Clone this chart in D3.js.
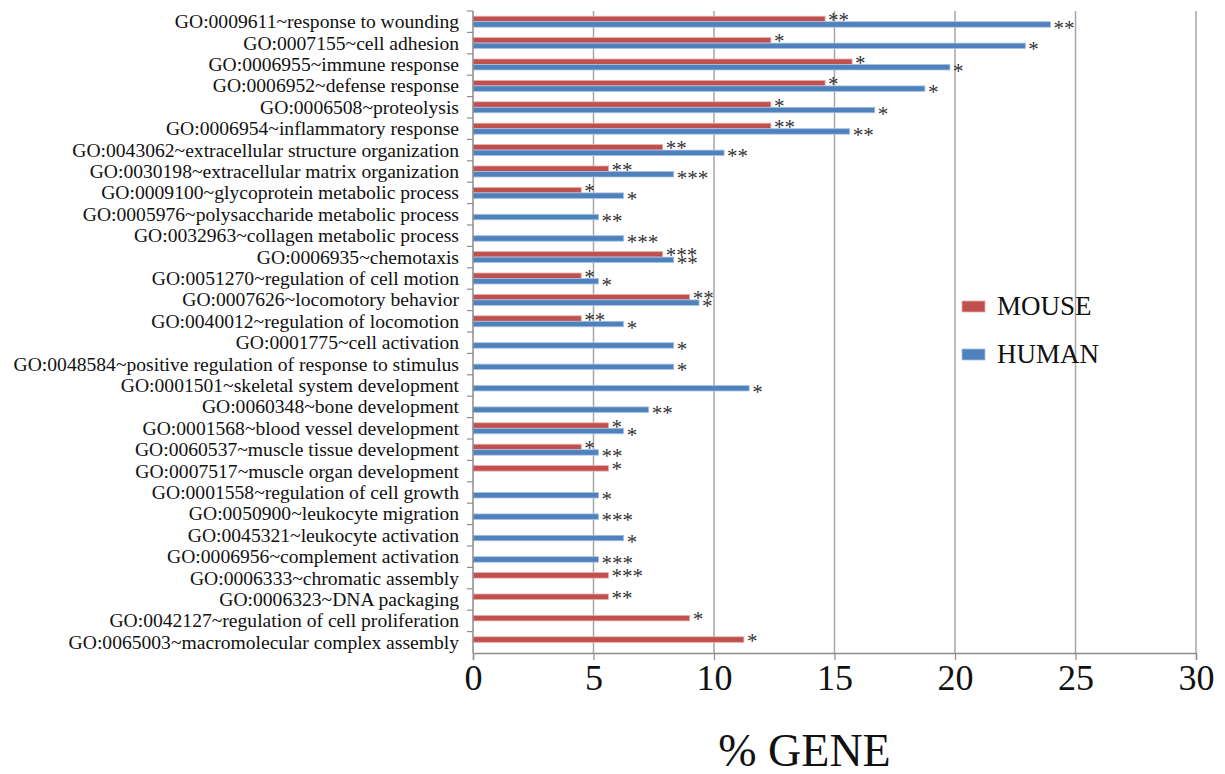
<!DOCTYPE html>
<html>
<head>
<meta charset="utf-8">
<script src="https://cdn.jsdelivr.net/npm/d3@7"></script>
<style>
    body { margin: 0; background: #fff; }
    svg { display: block; font-family: "Liberation Serif", "Times New Roman", serif; }
</style>
</head>
<body>
<div id="chart"></div>
<script>
"use strict";

var categories = [
    "GO:0009611~response to wounding",
    "GO:0007155~cell adhesion",
    "GO:0006955~immune response",
    "GO:0006952~defense response",
    "GO:0006508~proteolysis",
    "GO:0006954~inflammatory response",
    "GO:0043062~extracellular structure organization",
    "GO:0030198~extracellular matrix organization",
    "GO:0009100~glycoprotein metabolic process",
    "GO:0005976~polysaccharide metabolic process",
    "GO:0032963~collagen metabolic process",
    "GO:0006935~chemotaxis",
    "GO:0051270~regulation of cell motion",
    "GO:0007626~locomotory behavior",
    "GO:0040012~regulation of locomotion",
    "GO:0001775~cell activation",
    "GO:0048584~positive regulation of response to stimulus",
    "GO:0001501~skeletal system development",
    "GO:0060348~bone development",
    "GO:0001568~blood vessel development",
    "GO:0060537~muscle tissue development",
    "GO:0007517~muscle organ development",
    "GO:0001558~regulation of cell growth",
    "GO:0050900~leukocyte migration",
    "GO:0045321~leukocyte activation",
    "GO:0006956~complement activation",
    "GO:0006333~chromatic assembly",
    "GO:0006323~DNA packaging",
    "GO:0042127~regulation of cell proliferation",
    "GO:0065003~macromolecular complex assembly"
];

var series = ["MOUSE", "HUMAN"];

// % gene, null = no bar
var mouseValues = [14.61, 12.36, 15.73, 14.61, 12.36, 12.36, 7.87, 5.62, 4.49, null,
    null, 7.87, 4.49, 8.99, 4.49, null, null, null, null, 5.62,
    4.49, 5.62, null, null, null, null, 5.62, 5.62, 8.99, 11.24];
var humanValues = [23.96, 22.92, 19.79, 18.75, 16.67, 15.63, 10.42, 8.33, 6.25, 5.21,
    6.25, 8.33, 5.21, 9.38, 6.25, 8.33, 8.33, 11.46, 7.29, 6.25,
    5.21, null, 5.21, 5.21, 6.25, 5.21, null, null, null, null];

// significance marks
var mouseStars = ["**", "*", "*", "*", "*", "**", "**", "**", "*", "",
    "", "***", "*", "**", "**", "", "", "", "", "*",
    "*", "*", "", "", "", "", "***", "**", "*", "*"];
var humanStars = ["**", "*", "*", "*", "*", "**", "**", "***", "*", "**",
    "***", "**", "*", "*", "*", "*", "*", "*", "**", "*",
    "**", "", "*", "***", "*", "***", "", "", "", ""];

var xTicks = [0, 5, 10, 15, 20, 25, 30];

var colors = { MOUSE: "#c0504d", HUMAN: "#4f81bd" };
var strokes = { MOUSE: "#e6aeac", HUMAN: "#a9c3e3" };

var width = 1225,
    height = 774;

var plot = { left: 473, right: 1196, top: 11, bottom: 653 };

var svg = d3.select("#chart").append("svg")
    .attr("width", width)
    .attr("height", height);

var x = d3.scaleLinear()
    .domain([0, 30])
    .range([plot.left, plot.right]);

var y = d3.scaleBand()
    .domain(categories)
    .range([plot.top, plot.bottom]);

// two bars inside each category band
var ySub = d3.scaleBand()
    .domain(series)
    .range([0, y.bandwidth()])
    .paddingInner(0)
    .paddingOuter(0.95);

// rows of data, one per category
var rows = categories.map(function (c, i) {
    return {
        name: c,
        bars: [
            { key: "MOUSE", value: mouseValues[i], stars: mouseStars[i] },
            { key: "HUMAN", value: humanValues[i], stars: humanStars[i] }
        ]
    };
});

// vertical grid lines
svg.append("g")
    .attr("class", "grid")
    .selectAll("line")
    .data(xTicks.slice(1))
    .enter().append("line")
    .attr("x1", function (d) { return x(d); })
    .attr("x2", function (d) { return x(d); })
    .attr("y1", plot.top)
    .attr("y2", plot.bottom)
    .attr("stroke", "#a6a6a6")
    .attr("stroke-width", 1.5);

// bars
var groups = svg.append("g")
    .attr("class", "bars")
    .selectAll("g")
    .data(rows)
    .enter().append("g")
    .attr("transform", function (d) { return "translate(0," + y(d.name) + ")"; });

var bar = groups.selectAll("g")
    .data(function (d) { return d.bars.filter(function (b) { return b.value != null; }); })
    .enter().append("g");

bar.append("rect")
    .attr("x", x(0))
    .attr("y", function (d) { return ySub(d.key); })
    .attr("width", function (d) { return x(d.value) - x(0); })
    .attr("height", ySub.bandwidth())
    .attr("fill", function (d) { return colors[d.key]; })
    .attr("stroke", function (d) { return strokes[d.key]; })
    .attr("stroke-width", 0.8);

// stars sit just right of the bar end
bar.append("text")
    .attr("x", function (d) { return x(d.value) + 3; })
    .attr("y", function (d) {
        var mid = ySub(d.key) + ySub.bandwidth() / 2;
        return mid + (d.key == "MOUSE" ? 8 : 10.5);
    })
    .attr("font-size", 21)
    .attr("fill", "#333")
    .text(function (d) { return d.stars; });

// y axis with ticks between categories
var yAxis = svg.append("g").attr("class", "y-axis");

yAxis.append("line")
    .attr("x1", plot.left).attr("x2", plot.left)
    .attr("y1", plot.top).attr("y2", plot.bottom)
    .attr("stroke", "#8c8c8c")
    .attr("stroke-width", 1.5);

yAxis.selectAll(".tick")
    .data(categories)
    .enter().append("line")
    .attr("class", "tick")
    .attr("x1", plot.left - 6).attr("x2", plot.left)
    .attr("y1", function (d) { return y(d); })
    .attr("y2", function (d) { return y(d); })
    .attr("stroke", "#8c8c8c")
    .attr("stroke-width", 1.2);

yAxis.selectAll("text")
    .data(categories)
    .enter().append("text")
    .attr("x", plot.left - 14)
    .attr("y", function (d) { return y(d) + y.bandwidth() / 2; })
    .attr("dy", "0.33em")
    .attr("text-anchor", "end")
    .attr("font-size", 19.6)
    .attr("fill", "#111")
    .text(function (d) { return d; });

// x axis
var xAxis = svg.append("g")
    .attr("class", "x-axis")
    .attr("transform", "translate(0," + plot.bottom + ")")
    .call(d3.axisBottom(x).tickValues(xTicks).tickSize(7).tickPadding(4).tickFormat(d3.format("d")));

xAxis.select(".domain")
    .attr("stroke", "#8c8c8c")
    .attr("stroke-width", 1.5);

xAxis.selectAll(".tick line")
    .attr("stroke", "#8c8c8c")
    .attr("stroke-width", 1.2);

xAxis.selectAll(".tick text")
    .attr("font-family", "Liberation Serif, serif")
    .attr("font-size", 36)
    .attr("fill", "#111");

// axis title
svg.append("text")
    .attr("x", x(15) - 30)
    .attr("y", 766)
    .attr("text-anchor", "middle")
    .attr("font-size", 46)
    .attr("fill", "#111")
    .text("% GENE");

// legend
var legend = svg.append("g")
    .attr("class", "legend")
    .attr("transform", "translate(962,306)");

var item = legend.selectAll("g")
    .data(series)
    .enter().append("g")
    .attr("transform", function (d, i) { return "translate(0," + (i * 48) + ")"; });

item.append("rect")
    .attr("x", 0)
    .attr("y", -5)
    .attr("width", 23)
    .attr("height", 11)
    .attr("fill", function (d) { return colors[d]; })
    .attr("stroke", function (d) { return strokes[d]; })
    .attr("stroke-width", 0.8);

item.append("text")
    .attr("x", 35)
    .attr("y", 0)
    .attr("dy", "0.35em")
    .attr("font-size", 27)
    .attr("fill", "#111")
    .text(function (d) { return d; });
</script>
</body>
</html>
